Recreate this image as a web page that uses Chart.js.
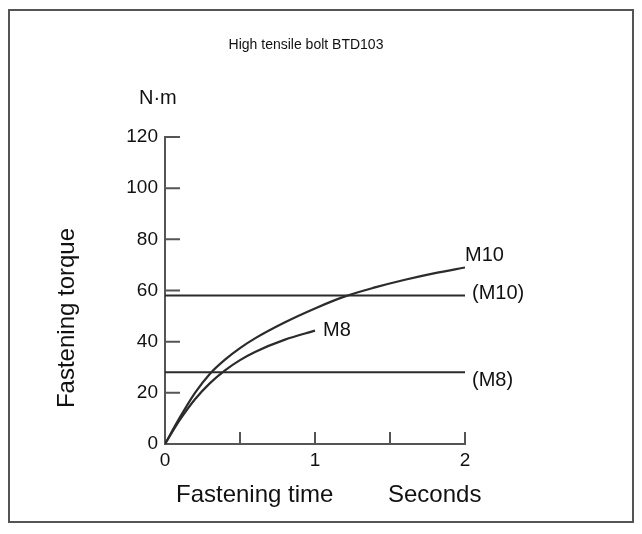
<!DOCTYPE html>
<html>
<head>
<meta charset="utf-8">
<script src="https://cdn.jsdelivr.net/npm/chart.js@4"></script>
<style>
  html, body { margin: 0; padding: 0; background: #fff; }
  canvas { display: block; }
</style>
</head>
<body>
<canvas id="torqueChart" width="642" height="534"></canvas>
<script>
// values
const timeM10 = [0, 0.1, 0.2, 0.3, 0.4, 0.5, 0.6, 0.8, 1.0, 1.2, 1.4, 1.6, 1.8, 2.0];
const torqueM10 = [0, 10.5, 20, 27.5, 33, 37.5, 41.3, 47.6, 53, 57.7, 61.2, 64.2, 66.8, 69];
const timeM8 = [0, 0.1, 0.2, 0.3, 0.4, 0.5, 0.6, 0.8, 1.0];
const torqueM8 = [0, 9.5, 17.5, 23.8, 28.8, 32.8, 36, 40.8, 44.3];
const refRange = [0, 2];
const refM10 = 58;
const refM8 = 28;
const yTicks = [0, 20, 40, 60, 80, 100, 120];
const xTicks = [0, 0.5, 1, 1.5, 2];
const xTickLabels = { 0: '0', 1: '1', 2: '2' };

const FONT = '"Liberation Sans", Arial, sans-serif';
const INK = '#2b2b2b';
const AXIS = '#555';

function pairs(xs, ys) {
    return xs.map((x, i) => ({ x: x, y: ys[i] }));
}

const lineStyle = {
    borderColor: INK,
    borderWidth: 2.2,
    pointRadius: 0,
    fill: false
};

// frame, texts and inward tick marks
const decorations = {
    id: 'decorations',
    beforeDraw(chart) {
        const ctx = chart.ctx;
        ctx.save();
        ctx.fillStyle = '#fff';
        ctx.fillRect(0, 0, chart.width, chart.height);
        ctx.strokeStyle = AXIS;
        ctx.lineWidth = 2;
        ctx.strokeRect(9, 10, 624, 512);
        ctx.restore();
    },
    afterDraw(chart) {
        const ctx = chart.ctx;
        const x = chart.scales.x;
        const y = chart.scales.y;
        const left = x.getPixelForValue(0);
        const bottom = y.getPixelForValue(0);

        ctx.save();
        ctx.strokeStyle = AXIS;
        ctx.lineWidth = 2;
        ctx.beginPath();
        yTicks.forEach(v => {
            if (v === 0) return;
            const py = y.getPixelForValue(v);
            ctx.moveTo(left, py);
            ctx.lineTo(left + 15, py);
        });
        xTicks.forEach(v => {
            if (v === 0) return;
            const px = x.getPixelForValue(v);
            ctx.moveTo(px, bottom);
            ctx.lineTo(px, bottom - 12);
        });
        ctx.stroke();

        ctx.fillStyle = '#111';
        ctx.textBaseline = 'middle';

        ctx.font = '14px ' + FONT;
        ctx.textAlign = 'center';
        ctx.fillText('High tensile bolt BTD103', 306, 45);

        ctx.font = '20px ' + FONT;
        ctx.textAlign = 'left';
        ctx.fillText('N\u00b7m', 139, 98);

        ctx.font = '24px ' + FONT;
        ctx.fillText('Fastening time', 176, 495);
        ctx.fillText('Seconds', 388, 495);

        ctx.save();
        ctx.translate(67, 318);
        ctx.rotate(-Math.PI / 2);
        ctx.textAlign = 'center';
        ctx.fillText('Fastening torque', 0, 0);
        ctx.restore();

        ctx.font = '20px ' + FONT;
        ctx.textAlign = 'left';
        const endX = x.getPixelForValue(refRange[1]);
        ctx.fillText('M10', endX, y.getPixelForValue(torqueM10[torqueM10.length - 1]) - 12);
        ctx.fillText('(M10)', endX + 7, y.getPixelForValue(refM10) - 2);
        ctx.fillText('(M8)', endX + 7, y.getPixelForValue(refM8) + 8);
        ctx.fillText('M8', x.getPixelForValue(timeM8[timeM8.length - 1]) + 8,
            y.getPixelForValue(torqueM8[torqueM8.length - 1]));
        ctx.restore();
    }
};

new Chart(document.getElementById('torqueChart'), {
    type: 'line',
    data: {
        datasets: [
            { label: 'M10', data: pairs(timeM10, torqueM10), cubicInterpolationMode: 'monotone', ...lineStyle },
            { label: 'M8', data: pairs(timeM8, torqueM8), cubicInterpolationMode: 'monotone', ...lineStyle },
            { label: '(M10)', data: pairs(refRange, [refM10, refM10]), ...lineStyle, borderWidth: 2 },
            { label: '(M8)', data: pairs(refRange, [refM8, refM8]), ...lineStyle, borderWidth: 2 }
        ]
    },
    options: {
        responsive: false,
        animation: false,
        events: [],
        layout: {
            padding: { left: 0, top: 137, right: 177, bottom: 50 }
        },
        plugins: {
            legend: { display: false },
            tooltip: { enabled: false },
            title: { display: false }
        },
        scales: {
            x: {
                type: 'linear',
                min: 0,
                max: 2,
                afterFit: s => { s.height = 40; },
                afterBuildTicks: s => { s.ticks = xTicks.map(v => ({ value: v })); },
                border: { display: true, color: AXIS, width: 2 },
                grid: { display: true, drawOnChartArea: false, drawTicks: false },
                ticks: {
                    autoSkip: false,
                    maxRotation: 0,
                    padding: 5,
                    color: '#111',
                    font: { family: FONT, size: 19 },
                    callback: v => xTickLabels[v] !== undefined ? xTickLabels[v] : ''
                }
            },
            y: {
                type: 'linear',
                min: 0,
                max: 120,
                afterFit: s => { s.width = 165; },
                afterBuildTicks: s => { s.ticks = yTicks.map(v => ({ value: v })); },
                border: { display: true, color: AXIS, width: 2 },
                grid: { display: true, drawOnChartArea: false, drawTicks: false },
                ticks: {
                    padding: 7,
                    color: '#111',
                    font: { family: FONT, size: 19 },
                    callback: v => String(v)
                }
            }
        }
    },
    plugins: [decorations]
});
</script>
</body>
</html>
